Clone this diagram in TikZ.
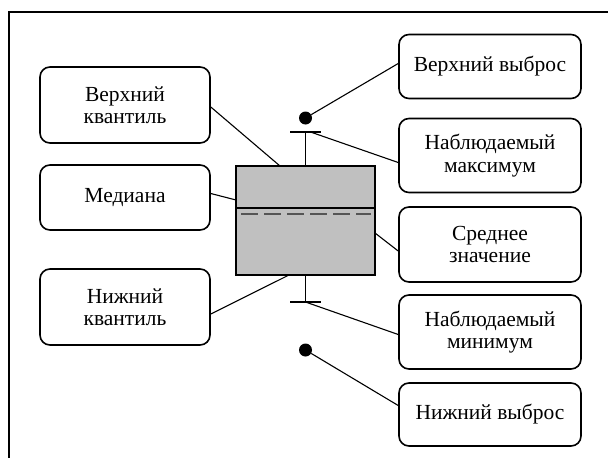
\documentclass[tikz,border=0pt]{standalone}
\usepackage{fontspec}
\setmainfont{Liberation Serif}
\usetikzlibrary{calc}
\definecolor{boxgray}{RGB}{192,192,192}
\definecolor{dashgray}{RGB}{85,85,85}

\begin{document}
\begin{tikzpicture}[x=1pt,y=-1pt,
        labelbox/.style={draw,line width=1.6pt,rounded corners=10pt,align=center,
            inner sep=2pt,font=\fontsize{21.5}{22.5}\selectfont},
        leftbox/.style={labelbox,minimum width=170pt},
        rightbox/.style={labelbox,minimum width=182pt},
        leader/.style={line width=1.1pt},
        whisker/.style={line width=1.3pt}]
    \useasboundingbox (0,0) rectangle (608,458);

    % Outer frame
    \draw[line width=1.8pt] (9,475) -- (9,12) -- (625,12);

    % Box
    \node[draw,line width=1.8pt,fill=boxgray,inner sep=0pt,
          minimum width=139pt,minimum height=109pt] (box) at (305.5,220.5) {};
    \draw[line width=1.4pt] (236,208) -- (375,208);
    \draw[line width=1.6pt,dashgray,dash pattern=on 17pt off 6pt] (241,214) -- (371,214);

    % Whiskers and outliers
    \coordinate (topcap) at (305.5,132);
    \coordinate (botcap) at (305.5,302);
    \draw[whisker] (box.north) -- (topcap);
    \draw[whisker] (box.south) -- (botcap);
    \draw[whisker] (290,132) -- (321,132);
    \draw[whisker] (290,302) -- (321,302);
    \node[circle,fill=black,inner sep=0pt,minimum size=13pt] (upout) at (305.5,118) {};
    \node[circle,fill=black,inner sep=0pt,minimum size=13pt] (lowout) at (305.5,350) {};

    % Left labels
    \node[leftbox,minimum height=76pt] (upq) at (125,105) {Верхний\\квантиль};
    \node[leftbox,minimum height=65pt] (med) at (125,197.5) {Медиана};
    \node[leftbox,minimum height=76pt] (lowq) at (125,307) {Нижний\\квантиль};

    % Right labels
    \node[rightbox,minimum height=64pt] (upoutlbl) at (490,66.5) {Верхний выброс};
    \node[rightbox,minimum height=74pt] (maxlbl) at (490,155.5) {Наблюдаемый\\максимум};
    \node[rightbox,minimum height=75pt] (meanlbl) at (490,244.5) {Среднее\\значение};
    \node[rightbox,minimum height=74pt] (minlbl) at (490,332) {Наблюдаемый\\минимум};
    \node[rightbox,minimum height=63pt] (lowoutlbl) at (490,414.5) {Нижний выброс};

    % Points on the box
    \coordinate (q3pt) at (280,166);
    \coordinate (medpt) at (236,200);
    \coordinate (q1pt) at (289,275);
    \coordinate (meanpt) at (375,233);

    % Leaders
    \draw[leader] ($(upq.east)+(0,2)$) -- (q3pt);
    \draw[leader] ($(med.east)+(0,-4)$) -- (medpt);
    \draw[leader] ($(lowq.east)+(0,7)$) -- (q1pt);
    \draw[leader] (upout) -- ($(upoutlbl.west)+(0,-3)$);
    \draw[leader] ($(topcap)+(5,0)$) -- ($(maxlbl.west)+(0,7)$);
    \draw[leader] (meanpt) -- ($(meanlbl.west)+(0,6.5)$);
    \draw[leader] (botcap) -- ($(minlbl.west)+(0,2.5)$);
    \draw[leader] (lowout) -- ($(lowoutlbl.west)+(0,-9)$);
\end{tikzpicture}
\end{document}
